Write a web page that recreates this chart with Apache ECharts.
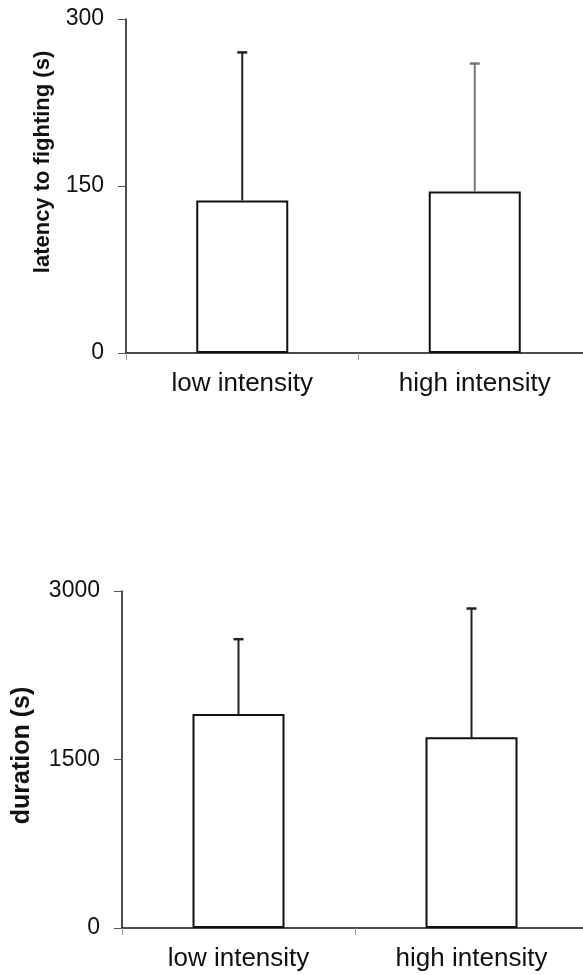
<!DOCTYPE html>
<html>
<head>
<meta charset="utf-8">
<script src="https://cdn.jsdelivr.net/npm/echarts@6/dist/echarts.min.js"></script>
<style>
html,body{margin:0;padding:0;background:#fff;}
#chart{width:583px;height:975px;}
</style>
</head>
<body>
<div id="chart"></div>
<script>
const categories = ['low intensity', 'high intensity'];
const latencyMean = [137, 145];
const latencyErr = [133, 115];
const durationMean = [1904, 1697];
const durationErr = [667, 1147];
const latencyAxis = { min: 0, max: 300, interval: 150 };
const durationAxis = { min: 0, max: 3000, interval: 1500 };
const errColors = [['#222', '#777'], ['#222', '#222']];

const font = 'Liberation Sans, Arial, sans-serif';

function errData(mean, err) {
  return mean.map((m, i) => [i, m, m + err[i]]);
}

function errRender(colors) {
  return function (params, api) {
    const idx = api.value(0);
    const p0 = api.coord([idx, api.value(1)]);
    const p1 = api.coord([idx, api.value(2)]);
    const c = colors[idx];
    return {
      type: 'group',
      children: [
        { type: 'line', shape: { x1: p0[0], y1: p0[1], x2: p1[0], y2: p1[1] },
          style: { stroke: c, lineWidth: 2 } },
        { type: 'line', shape: { x1: p1[0] - 5, y1: p1[1], x2: p1[0] + 5, y2: p1[1] },
          style: { stroke: c, lineWidth: 2.5 } }
      ]
    };
  };
}

const xAxisBase = {
  type: 'category',
  data: categories,
  boundaryGap: true,
  axisLine: { lineStyle: { color: '#111', width: 1.5 } },
  axisTick: { show: true, length: 7, lineStyle: { color: '#999', width: 1 } },
  axisLabel: { color: '#111', fontSize: 26, fontFamily: font, margin: 18 },
  splitLine: { show: false }
};

function yAxisBase(cfg, name, size, gap, pad) {
  return {
    type: 'value',
    min: cfg.min, max: cfg.max, interval: cfg.interval,
    name: name,
    nameLocation: 'middle',
    nameGap: gap,
    nameTextStyle: { color: '#111', fontSize: size, fontWeight: 'bold', fontFamily: font, padding: pad },
    axisLine: { show: true, lineStyle: { color: '#111', width: 1.5 } },
    axisTick: { show: true, length: 8, lineStyle: { color: '#555', width: 1 } },
    axisLabel: { color: '#111', fontSize: 23, fontFamily: font, margin: 22, formatter: v => String(v) },
    splitLine: { show: false }
  };
}

const chart = echarts.init(document.getElementById('chart'), null, { renderer: 'canvas' });
chart.setOption({
  animation: false,
  backgroundColor: '#fff',
  grid: [
    { left: 126, top: 19, width: 465, height: 334, containLabel: false, outerBoundsMode: 'none' },
    { left: 122, top: 591, width: 466, height: 337, containLabel: false, outerBoundsMode: 'none' }
  ],
  xAxis: [
    Object.assign({ gridIndex: 0 }, xAxisBase),
    Object.assign({ gridIndex: 1 }, xAxisBase)
  ],
  yAxis: [
    Object.assign({ gridIndex: 0 }, yAxisBase(latencyAxis, 'latency to fighting (s)', 22, 72, [0, 0, 0, 48])),
    Object.assign({ gridIndex: 1 }, yAxisBase(durationAxis, 'duration (s)', 25, 87, [0, 0, 0, 8]))
  ],
  series: [
    { type: 'bar', xAxisIndex: 0, yAxisIndex: 0, data: latencyMean, barWidth: 92,
      itemStyle: { color: '#fff', borderColor: '#111', borderWidth: 2 }, z: 2 },
    { type: 'custom', xAxisIndex: 0, yAxisIndex: 0, data: errData(latencyMean, latencyErr),
      renderItem: errRender(errColors[0]), z: 3 },
    { type: 'bar', xAxisIndex: 1, yAxisIndex: 1, data: durationMean, barWidth: 92,
      itemStyle: { color: '#fff', borderColor: '#111', borderWidth: 2 }, z: 2 },
    { type: 'custom', xAxisIndex: 1, yAxisIndex: 1, data: errData(durationMean, durationErr),
      renderItem: errRender(errColors[1]), z: 3 }
  ]
});
</script>
</body>
</html>
